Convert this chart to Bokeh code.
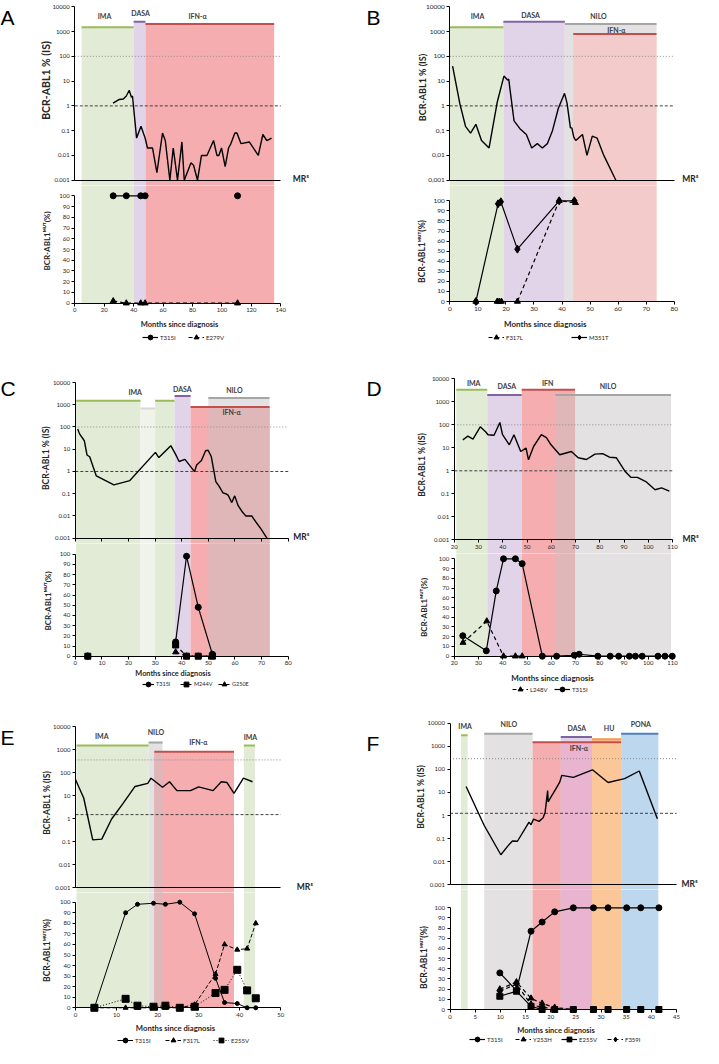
import math
from bokeh.plotting import figure
from bokeh.models import (Range1d, LinearAxis, LogAxis, FixedTicker, Label, Legend,
                          LegendItem)
from bokeh.layouts import column, row
from bokeh.embed import file_html
from bokeh.resources import INLINE
from bokeh.core.properties import value

# ======================= DATA =======================
LOG_TICKS = [0.001, 0.01, 0.1, 1, 10, 100, 1000, 10000]
LOG_LABELS_DOT = ["0.001", "0.01", "0.1", "1", "10", "100", "1000", "10000"]
LOG_LABELS_COMMA = ["0,001", "0,01", "0,1", "1", "10", "100", "1000", "10000"]
MUT_TICKS = [0, 10, 20, 30, 40, 50, 60, 70, 80, 90, 100]

# ---- Panel A ----
A_xticks = [0, 20, 40, 60, 80, 100, 120, 140]
A_months = [26, 30, 33, 35, 37, 38.5, 39.2, 42, 45, 47.8, 49.4, 52.8, 55.8, 59.6, 61.5,
            64.6, 66.9, 69.8, 72.8, 74.4, 78.9, 80.7, 83.4, 86.1, 89.8, 94.3, 96.6, 97.9,
            99.7, 102.2, 104.5, 106.1, 108.8, 110.2, 112.9, 118.6, 124.7, 127.8, 130.5, 133.7]
A_bcr = [1.3, 1.8, 1.9, 2.5, 4.3, 2.2, 2.5, 0.05, 0.15, 0.05, 0.02, 0.02, 0.002, 0.08, 0.04,
         0.001, 0.02, 0.001, 0.035, 0.001, 0.005, 0.004, 0.001, 0.01, 0.01, 0.04, 0.01, 0.01,
         0.02, 0.0035, 0.02, 0.03, 0.08, 0.08, 0.03, 0.035, 0.01, 0.07, 0.04, 0.05]
A_T315I_m = [26.1, 35.0, 44.8, 47.8, None, 110.6]
A_T315I = [100, 100, 100, 100, None, 100]
A_E279V_m = [26.1, 35.0, 44.8, 47.8, 110.6]
A_E279V = [2, 0, 0, 0, 0]
A_tx_start = [4.6, 40.0, 48.0]
A_tx_end = [40.0, 48.0, 135.5]
A_tx_top = [1500, 2500, 2000]
A_tx_kind = ["IMA", "DASA", "IFN"]
A_tx_label = ["IMA", "DASA", "IFN-α"]
A_tx_label_x = [20.2, 44.7, 83.4]
A_tx_label_y = [4070, 5370, 4450]
A_refs = [100, 1]

# ---- Panel B ----
B_xticks = [0, 10, 20, 30, 40, 50, 60, 70, 80]
B_months = [1, 3.6, 5.6, 7.4, 9.3, 11.3, 14.0, 16.9, 19.3, 20.6, 21.0, 22.9, 25.0, 27.3, 29.2,
            31.2, 33.0, 34.8, 36.6, 38.7, 40.9, 41.8, 43.0, 43.5, 44.2, 44.9, 47.3, 48.9, 50.8,
            52.5, 54.9, 59.2]
B_bcr = [40, 1.2, 0.15, 0.08, 0.18, 0.04, 0.02, 1.4, 16, 11, 12, 0.25, 0.12, 0.07, 0.02,
         0.03, 0.02, 0.03, 0.1, 0.8, 3.2, 1.3, 0.13, 0.13, 0.055, 0.04, 0.07, 0.01, 0.06,
         0.05, 0.01, 0.001]
B_F317L_m = [9.3, 16.9, 17.6, 18.4, 24.1, 39.0, 44.8]
B_F317L = [0, 0, 0, 0, 0, 100, 98]
B_M351T_m = [9.3, 17.2, 18.2, 24.1, 39.0, 44.4]
B_M351T = [0, 97, 99, 52, 100, 100]
B_tx_start = [0.0, 19.1, 41.0, 44.0]
B_tx_end = [19.1, 41.0, 73.7, 73.7]
B_tx_top = [1500, 2500, 2000, 800]
B_tx_kind = ["IMA", "DASA", "NILO", "IFN_PALE"]
B_tx_label = ["IMA", "DASA", "NILO", "IFN-α"]
B_tx_label_x = [9.9, 28.8, 53.0, 59.4]
B_tx_label_y = [4070, 4880, 4070, 1200]
B_refs = [100, 1]

# ---- Panel C ----
C_xticks = [0, 10, 20, 30, 40, 50, 60, 70, 80]
C_months = [0.9, 1.6, 3.4, 4.4, 5.4, 7.9, 14.5, 20.5, 30.1, 31.4, 35.9, 37.7, 39.0, 41.2,
            44.8, 45.6, 47.4, 49.0, 49.9, 51.1, 52.8, 54.0, 55.5, 56.5, 57.4, 58.8, 59.9,
            61.2, 62.8, 64.1, 66.3, 67.8, 69.7, 72.0]
C_bcr = [82, 49, 24, 5.5, 4.6, 0.63, 0.25, 0.39, 7.2, 4.2, 14.5, 5.9, 2.8, 3.5, 0.98, 1.95,
         3.1, 8.7, 9, 4.7, 0.35, 0.22, 0.11, 0.1, 0.087, 0.04, 0.08, 0.029, 0.015, 0.01,
         0.01, 0.0055, 0.0027, 0.001]
C_mut_m = [4.7, None, 37.7, 41.8, 46.2, 51.5]
C_T315I = [0, None, 14, 98, 48, 2]
C_M244V = [0, None, 11, 0, 0, 0]
C_G250E = [0, None, 4, 0, 0, 0]
C_tx_start = [0.3, 24.5, 30.0, 37.3, 50.0, 43.3, 50.0]
C_tx_end = [24.5, 30.0, 37.3, 43.3, 73.0, 73.0, 73.0]
C_tx_top = [1500, 680, 1500, 2500, 2000, 800, 800]
C_tx_kind = ["IMA", "PAUSE", "IMA", "DASA", "NILO", "IFN", "MIX"]
C_tx_label = ["IMA", "", "", "DASA", "NILO", "IFN-α", ""]
C_tx_label_x = [22.5, 0, 0, 40.2, 59.8, 58.7, 0]
C_tx_label_y = [3630, 0, 0, 5360, 4840, 460, 0]
C_refs = [100, 1]

# ---- Panel D ----
D_xticks = [20, 30, 40, 50, 60, 70, 80, 90, 100, 110]
D_months = [23.5, 25.6, 27.7, 30.7, 32.9, 33.9, 36.4, 38.8, 39.9, 42.7, 44.6, 47.4, 49.6,
            50.6, 52.7, 55.9, 58.0, 59.9, 63.5, 68.3, 71.1, 74.5, 78.0, 81.2, 84.0, 86.8,
            90.5, 92.8, 95.5, 99.0, 102.8, 105.5, 108.7]
D_bcr = [22, 32, 24, 82, 50, 37, 35, 126, 37, 13.5, 37, 6.9, 9.6, 3, 11.4, 37, 28, 13.5, 5,
         6.9, 3.7, 3.1, 5.3, 5.6, 3.9, 3.7, 0.93, 0.52, 0.52, 0.34, 0.15, 0.18, 0.13]
D_L248V_m = [23.6, 33.4, 40.3, 45.2, 48.0]
D_L248V = [14, 36, 0, 0, 0]
D_T315I_m = [23.5, 33.2, 37.3, 40.3, 45.2, 48.0, 56.3, 62.2, 69.5, 71.5, 79.2, 84.3, 87.8,
             92.2, 94.7, 97.5, 104.0, 106.9, 109.9]
D_T315I = [21, 5.5, 67, 100, 100, 95, 0, 0, 1, 2, 0, 0, 0, 0, 0, 0, 0, 0, 0]
D_tx_start = [20.8, 33.6, 61.7, 47.8, 61.7]
D_tx_end = [33.6, 47.8, 109.4, 69.8, 69.8]
D_tx_top = [3300, 2000, 2000, 3300, 2000]
D_tx_kind = ["IMA", "DASA", "NILO", "IFN", "MIX"]
D_tx_label = ["IMA", "DASA", "NILO", "IFN", ""]
D_tx_label_x = [28.0, 41.7, 83.4, 58.5, 0]
D_tx_label_y = [6440, 5110, 5110, 6250, 0]
D_refs = [100, 1]

# ---- Panel E ----
E_xticks = [0, 10, 20, 30, 40, 50]
E_months = [0, 2.0, 4.2, 6.4, 8.8, 11.5, 14.5, 17.6, 18.4, 21.2, 22.9, 24.7, 28.0, 30.0,
            33.5, 35.5, 36.9, 38.6, 40.9, 43.1]
E_bcr = [50, 7.9, 0.12, 0.13, 0.97, 4.4, 25, 34, 57, 23, 40, 16.5, 16.5, 24, 16.5, 40, 37,
         12.6, 57, 40]
E_mut_m = [4.6, 12.2, 15.1, 19.0, 21.9, 25.4, 29.0, 34.1, 36.3, 39.4, 41.8, 43.9]
E_T315I = [0, 90, 98, 99, 98, 100, 89, 28, 5, 4, 0, 0]
E_F317L = [0, 0, 0, 0, 0, 0, 3, 32, 60, 55, 56, 80]
E_E255V = [0, 8.5, 2, 1, 2, 0, 1, 14, 17, 36, 16.5, 9]
E_tx_start = [0.24, 17.8, 19.2, 19.2, 41.0]
E_tx_end = [17.8, 21.2, 38.6, 21.2, 43.7]
E_tx_top = [1500, 2000, 800, 800, 1500]
E_tx_kind = ["IMA", "NILO", "IFN", "MIX", "IMA"]
E_tx_label = ["IMA", "NILO", "IFN-α", "", "IMA"]
E_tx_label_x = [6.4, 19.6, 29.9, 0, 42.6]
E_tx_label_y = [3790, 5650, 2080, 0, 3430]
E_refs = [355, 1.5]

# ---- Panel F ----
F_xticks = [0, 5, 10, 15, 20, 25, 30, 35, 40, 45]
F_months = [3.2, 6.8, 10.1, 11.6, 12.4, 13.4, 15.7, 16.1, 16.6, 17.7, 18.5, 18.9, 19.4, 19.5,
            19.9, 21.0, 21.8, 22.2, 24.5, 28.3, 31.4, 34.7, 37.6, 41.2]
F_bcr = [18, 0.37, 0.02, 0.051, 0.079, 0.077, 0.52, 0.4, 0.7, 0.56, 0.8, 1.4, 12, 3.9, 5.5,
         14, 28, 55, 45, 96, 27, 40, 85, 0.72]
F_mut_m = [9.9, 13.2, 16.1, 18.3, 20.8, 24.5, 28.5, 31.4, 35.1, 37.9, 41.5]
F_T315I = [36, 18.7, 77, 86, 96, 100, 100, 100, 100, 100, 100]
F_Y253H = [20, 27, 11, 6, 2, 0, 0, 0, 0, 0, 0]
F_E255V = [13, 18, 3, 0, 0, 0, 0, 0, 0, 0, 0]
F_F359I = [18, 25, 5, 2, 1, 0, 0, 0, 0, 0, 0]
F_tx_start = [2.2, 6.8, 16.4, 22.0, 22.0, 28.2, 34.0]
F_tx_end = [3.5, 16.4, 34.0, 28.2, 28.2, 34.0, 41.4]
F_tx_top = [3000, 3500, 1500, 2500, 1500, 2000, 3500]
F_tx_kind = ["IMA", "NILO", "IFN", "DASA", "MIX2", "HU", "PONA"]
F_tx_label = ["IMA", "NILO", "IFN-α", "DASA", "", "HU", "PONA"]
F_tx_label_x = [3.0, 11.7, 25.6, 25.2, 0, 31.6, 37.9]
F_tx_label_y = [7950, 9600, 830, 6320, 0, 6320, 8800]
F_refs = [290, 1.25]

Y_TOP_LABEL = "BCR-ABL1 % (IS)"
Y_BOT_LABEL = "BCR-ABL1ᴹᵁᵀ(%)"
MX = "Months since diagnosis"

# ======================= STYLE =======================
FONT = "Lato"
TXT = "#262626"
FILL = {"IMA": "#e2ebd6", "DASA": "#e2d4e8", "IFN": "#f5adb0", "IFN_PALE": "#f3cbcb",
        "NILO": "#e3e1e1", "MIX": "#dfb7b8", "PAUSE": "#eff3ea", "HU": "#fcc798",
        "PONA": "#bdd7ee", "MIX2": "#e8b4cf"}
EDGE = {"IMA": "#9bbb59", "DASA": "#8064a2", "IFN": "#c0504d", "IFN_PALE": "#c0504d",
        "NILO": "#a5a5a5", "PAUSE": "#d9d9d9", "HU": "#f79646", "PONA": "#4f81bd"}


def nan(v):
    return [float("nan") if a is None else a for a in v]


def pts(xs, ys):
    xx, yy = [], []
    for a, b in zip(xs, ys):
        if a is not None and b is not None:
            xx.append(a)
            yy.append(b)
    return xx, yy


def style_fig(p):
    p.outline_line_color = None
    p.grid.visible = False
    if p.title is not None:
        p.title.visible = False
    p.background_fill_color = "white"
    p.border_fill_color = "white"


def axis_style(ax, fs="6px"):
    ax.axis_line_color = "black"
    ax.axis_line_width = 1
    ax.major_tick_line_color = "black"
    ax.major_tick_out = 3
    ax.major_tick_in = 0
    ax.minor_tick_out = 0
    ax.minor_tick_in = 0
    ax.major_label_text_font = FONT
    ax.major_label_text_font_size = fs
    ax.major_label_text_color = TXT
    ax.major_label_standoff = 2


def text_label(p, x, y, text, xo, yo, fs, angle=0.0, align="center"):
    p.add_layout(Label(x=x, y=y, text=text, x_offset=xo, y_offset=yo, angle=angle,
                       text_align=align, text_baseline="middle", text_font=FONT,
                       text_font_style="bold", text_font_size=fs, text_color=TXT))


def build(G, D):
    ox, oy, W, H = G["ox"], G["oy"], G["W"], G["H"]
    x0, x1 = D["xr"]
    sx = (G["fx1"] - G["fx0"]) / float(x1 - x0)
    xs0 = x0 - (G["fx0"] - ox) / sx
    xs1 = x1 + (W - (G["fx1"] - ox)) / sx

    ppd = (G["ylow"] - G["ytop"]) / 7.0
    bnd = int(round(G["ylow"] - oy + G["gap"]))
    yt_end = 10 ** (4 + (G["ytop"] - oy) / ppd)
    yt_start = 10 ** (-3 - (bnd - (G["ylow"] - oy)) / ppd)

    hb = H - bnd
    ppu = (G["b0"] - G["b100"]) / 100.0
    yb_end = 100 + ((G["b100"] - oy) - bnd) / ppu
    yb_start = -(H - (G["b0"] - oy)) / ppu

    n = len(D["tx_start"])
    fills = [FILL[k] for k in D["tx_kind"]]
    li = [i for i, k in enumerate(D["tx_kind"]) if k in EDGE]
    tfs = G.get("tfs", "6px")

    # ---------------- top (BCR-ABL1 % IS, log) ----------------
    pt = figure(x_range=Range1d(xs0, xs1), y_range=Range1d(yt_start, yt_end),
                y_axis_type="log", x_axis_location=None, y_axis_location=None,
                frame_width=W, frame_height=bnd, min_border=0,
                output_backend="svg", toolbar_location=None)
    style_fig(pt)
    pt.quad(left=D["tx_start"], right=D["tx_end"], bottom=[1e-12] * n, top=D["tx_top"],
            fill_color=fills, line_color=None)
    pt.segment(x0=[D["tx_start"][i] for i in li], x1=[D["tx_end"][i] for i in li],
               y0=[D["tx_top"][i] for i in li], y1=[D["tx_top"][i] for i in li],
               line_color=[EDGE[D["tx_kind"][i]] for i in li], line_width=2)
    lab = [i for i, t in enumerate(D["tx_label"]) if t]
    pt.text(x=[D["tx_label_x"][i] for i in lab], y=[D["tx_label_y"][i] for i in lab],
            text=[D["tx_label"][i] for i in lab], text_font=value(FONT),
            text_font_size="7px", text_font_style="bold", text_color="#404040",
            text_align="center", text_baseline="middle")
    pt.line([x0, x1], [D["refs"][0]] * 2, line_color="#8c8c8c", line_dash="1 2", line_width=1)
    pt.line([x0, x1], [D["refs"][1]] * 2, line_color="#404040", line_dash="3 2", line_width=1)
    pt.line(D["bcr_m"], D["bcr"], line_color="black", line_width=1.4)

    ya = LogAxis(fixed_location=x0, ticker=FixedTicker(ticks=LOG_TICKS),
                 major_label_overrides=dict(zip(LOG_TICKS, D["log_labels"])),
                 bounds=(1e-3, 1e4))
    axis_style(ya, tfs)
    pt.add_layout(ya, "left")

    xa = LinearAxis(fixed_location=1e-3, bounds=(x0, x1),
                    ticker=FixedTicker(ticks=D["xticks"] if D["top_ticks"] else []))
    axis_style(xa, tfs)
    xa.major_tick_out = 3 if D["top_ticks"] else 0
    if D["top_ticks"] and not D["top_labels"]:
        xa.major_label_overrides = {t: "" for t in D["xticks"]}
    pt.add_layout(xa, "below")

    cx, cy, fs = G["ylab_t"]
    text_label(pt, x0, 10 ** (4 - (cy - G["ytop"]) / ppd), Y_TOP_LABEL, cx - G["fx0"], 0,
               fs, angle=math.pi / 2)

    lx, ly = G["letter"]
    pt.add_layout(Label(x=x0, y=1e4, text=D["letter"], x_offset=lx - G["fx0"],
                        y_offset=G["ytop"] - (ly + 15), text_baseline="alphabetic",
                        text_align="left", text_font="Liberation Sans",
                        text_font_size="21px", text_color="black"))
    pt.add_layout(Label(x=x1, y=1e-3, text="MR⁵", x_offset=G["mr_dx"], y_offset=1,
                        text_baseline="alphabetic", text_align="left", text_font=FONT,
                        text_font_style="bold", text_font_size="8.5px", text_color=TXT))

    # ---------------- bottom (mutation %, linear) ----------------
    pb = figure(x_range=Range1d(xs0, xs1), y_range=Range1d(yb_start, yb_end),
                x_axis_location=None, y_axis_location=None,
                frame_width=W, frame_height=hb, min_border=0,
                output_backend="svg", toolbar_location=None)
    style_fig(pb)
    pb.quad(left=D["tx_start"], right=D["tx_end"], bottom=[0] * n, top=[1000] * n,
            fill_color=fills, line_color=None)

    bx = LinearAxis(fixed_location=0, bounds=(x0, x1), ticker=FixedTicker(ticks=D["xticks"]))
    axis_style(bx, tfs)
    bx.major_label_standoff = 2
    pb.add_layout(bx, "below")

    by = LinearAxis(fixed_location=x0, bounds=(0, 100), ticker=FixedTicker(ticks=MUT_TICKS))
    axis_style(by, tfs)
    pb.add_layout(by, "left")

    cx, cy, fs = G["ylab_b"]
    text_label(pb, x0, 100 - (cy - G["b100"]) / ppu, Y_BOT_LABEL, cx - G["fx0"], 0, fs,
               angle=math.pi / 2)
    cx, cy, fs = G["xlab"]
    text_label(pb, x0 + (cx - G["fx0"]) / sx, 0, D["xlabel"], 0, -(cy - G["b0"]), fs)

    items = []
    for s in D["series"]:
        lr = pb.line(nan(s["m"]), nan(s["v"]), line_color="black",
                     line_width=s.get("lw", 1.2), line_dash=s["dash"])
        xs, ys = pts(s["m"], s["v"])
        sr = pb.scatter(xs, ys, marker=s["marker"], size=s["size"], fill_color="black",
                        line_color="black")
        items.append(LegendItem(label=s["name"], renderers=[lr, sr]))
    lcx, lcy = G["legend"]
    vx = lcx - ox
    vy = hb - ((lcy + 6 - oy) - bnd)
    leg = Legend(items=items, orientation="horizontal", location=(vx, vy),
                 glyph_width=G.get("gw", 16), glyph_height=12, label_height=12,
                 label_standoff=2, spacing=G.get("lsp", 8), padding=0, margin=0,
                 border_line_color=None, background_fill_alpha=0, label_text_font=FONT,
                 label_text_font_size=G.get("lfs", "6px"), label_text_color=TXT)
    pb.add_layout(leg)
    return column(pt, pb)


PANELS = [
    (dict(ox=3, oy=3, W=352, H=343, fx0=77.3, fx1=283.3, ytop=9.3, ylow=182.7, b100=198.3,
          b0=305.7, gap=5, letter=(3, 5), mr_dx=12, legend=(145, 340), lsp=8,
          ylab_t=(48.3, 83, "10.5px"), ylab_b=(49.3, 243.5, "8px"), xlab=(182, 327, "7.5px")),
     dict(letter="A", xr=(0, 140), xticks=A_xticks, bcr_m=A_months, bcr=A_bcr,
          tx_start=A_tx_start, tx_end=A_tx_end, tx_top=A_tx_top, tx_kind=A_tx_kind,
          tx_label=A_tx_label, tx_label_x=A_tx_label_x, tx_label_y=A_tx_label_y,
          refs=A_refs, log_labels=LOG_LABELS_DOT, top_ticks=False, top_labels=False,
          xlabel=MX,
          series=[dict(name="T315I", m=A_T315I_m, v=A_T315I, dash="solid", marker="circle", size=6),
                  dict(name="E279V", m=A_E279V_m, v=A_E279V, dash="4 3", marker="triangle", size=6)])),
    (dict(ox=366, oy=3, W=351, H=343, fx0=463.3, fx1=687.7, ytop=9.3, ylow=182.7, b100=203.3,
          b0=304, gap=5, letter=(380, 5), mr_dx=8, legend=(502, 340), lsp=45, tfs="6.5px",
          ylab_t=(436, 90, "9px"), ylab_b=(435, 254, "8.5px"), xlab=(558.8, 326, "8px")),
     dict(letter="B", xr=(0, 80), xticks=B_xticks, bcr_m=B_months, bcr=B_bcr,
          tx_start=B_tx_start, tx_end=B_tx_end, tx_top=B_tx_top, tx_kind=B_tx_kind,
          tx_label=B_tx_label, tx_label_x=B_tx_label_x, tx_label_y=B_tx_label_y,
          refs=B_refs, log_labels=LOG_LABELS_COMMA, top_ticks=False, top_labels=False,
          xlabel=MX,
          series=[dict(name="F317L", m=B_F317L_m, v=B_F317L, dash="4 3", marker="triangle", size=6),
                  dict(name="M351T", m=B_M351T_m, v=B_M351T, dash="solid", marker="diamond", size=8)])),
    (dict(ox=3, oy=352, W=352, H=352, fx0=77.8, fx1=290.7, ytop=391, ylow=546.7, b100=562.7,
          b0=664.7, gap=5, letter=(3, 382), mr_dx=5, legend=(145, 693), lsp=4, gw=12,
          lfs="5.5px",
          ylab_t=(48.3, 466.7, "8.5px"), ylab_b=(50, 609.5, "8px"), xlab=(175.5, 681.7, "7.3px")),
     dict(letter="C", xr=(0, 80), xticks=C_xticks, bcr_m=C_months, bcr=C_bcr,
          tx_start=C_tx_start, tx_end=C_tx_end, tx_top=C_tx_top, tx_kind=C_tx_kind,
          tx_label=C_tx_label, tx_label_x=C_tx_label_x, tx_label_y=C_tx_label_y,
          refs=C_refs, log_labels=LOG_LABELS_DOT, top_ticks=True, top_labels=False,
          xlabel=MX,
          series=[dict(name="T315I", m=C_mut_m, v=C_T315I, dash="solid", marker="circle", size=6),
                  dict(name="M244V", m=C_mut_m, v=C_M244V, dash="4 3", marker="square", size=6),
                  dict(name="G250E", m=C_mut_m, v=C_G250E, dash="4 3", marker="triangle", size=6)])),
    (dict(ox=366, oy=352, W=351, H=352, fx0=467.8, fx1=686, ytop=387.3, ylow=548.3, b100=567.3,
          b0=664.7, gap=14, letter=(380, 382), mr_dx=10, legend=(526, 698), lsp=4,
          ylab_t=(435, 473.5, "8.5px"), ylab_b=(437.7, 616, "8px"), xlab=(567, 686.7, "8px")),
     dict(letter="D", xr=(20, 110), xticks=D_xticks, bcr_m=D_months, bcr=D_bcr,
          tx_start=D_tx_start, tx_end=D_tx_end, tx_top=D_tx_top, tx_kind=D_tx_kind,
          tx_label=D_tx_label, tx_label_x=D_tx_label_x, tx_label_y=D_tx_label_y,
          refs=D_refs, log_labels=LOG_LABELS_DOT, top_ticks=True, top_labels=True,
          xlabel="Months since  diagnosis",
          series=[dict(name="L248V", m=D_L248V_m, v=D_L248V, dash="4 3", marker="triangle", size=6),
                  dict(name="T315I", m=D_T315I_m, v=D_T315I, dash="solid", marker="circle", size=6)])),
    (dict(ox=3, oy=710, W=352, H=351, fx0=78, fx1=283.3, ytop=741, ylow=902.3, b100=916.7,
          b0=1022.3, gap=5, letter=(3, 737), mr_dx=16, legend=(120, 1055), lsp=10,
          ylab_t=(49.3, 817.5, "8.5px"), ylab_b=(49.3, 965, "8.5px"), xlab=(178, 1042.7, "7.7px")),
     dict(letter="E", xr=(0, 50), xticks=E_xticks, bcr_m=E_months, bcr=E_bcr,
          tx_start=E_tx_start, tx_end=E_tx_end, tx_top=E_tx_top, tx_kind=E_tx_kind,
          tx_label=E_tx_label, tx_label_x=E_tx_label_x, tx_label_y=E_tx_label_y,
          refs=E_refs, log_labels=LOG_LABELS_DOT, top_ticks=False, top_labels=False,
          xlabel=MX,
          series=[dict(name="T315I", m=E_mut_m, v=E_T315I, dash="solid", marker="circle", size=4, lw=1),
                  dict(name="F317L", m=E_mut_m, v=E_F317L, dash="4 2", marker="triangle", size=5, lw=1),
                  dict(name="E255V", m=E_mut_m, v=E_E255V, dash="1 2", marker="square", size=7, lw=1)])),
    (dict(ox=366, oy=710, W=351, H=351, fx0=463.5, fx1=690, ytop=737.7, ylow=899.3, b100=922.3,
          b0=1024, gap=5, letter=(380, 743), mr_dx=5, legend=(483, 1054), lsp=8,
          ylab_t=(434, 811.5, "8.5px"), ylab_b=(437.3, 972, "8.5px"), xlab=(569.5, 1045, "7.5px")),
     dict(letter="F", xr=(0, 45), xticks=F_xticks, bcr_m=F_months, bcr=F_bcr,
          tx_start=F_tx_start, tx_end=F_tx_end, tx_top=F_tx_top, tx_kind=F_tx_kind,
          tx_label=F_tx_label, tx_label_x=F_tx_label_x, tx_label_y=F_tx_label_y,
          refs=F_refs, log_labels=LOG_LABELS_DOT, top_ticks=False, top_labels=False,
          xlabel=MX,
          series=[dict(name="T315I", m=F_mut_m, v=F_T315I, dash="solid", marker="circle", size=6),
                  dict(name="Y253H", m=F_mut_m, v=F_Y253H, dash="4 3", marker="triangle", size=6),
                  dict(name="E255V", m=F_mut_m, v=F_E255V, dash="solid", marker="square", size=6),
                  dict(name="F359I", m=F_mut_m, v=F_F359I, dash="4 3", marker="diamond", size=7)])),
]

cols = [build(G, D) for G, D in PANELS]
layout = column(row(cols[0], cols[1]), row(cols[2], cols[3]), row(cols[4], cols[5]))

open("out.html", "w").write(file_html(layout, INLINE))
